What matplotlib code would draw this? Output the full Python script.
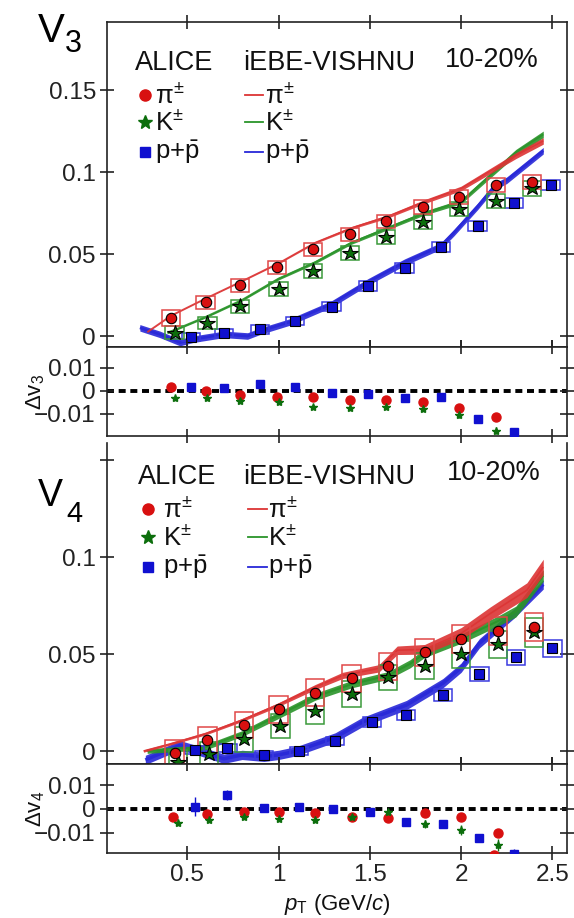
import numpy as np
import matplotlib
matplotlib.use('Agg')
import matplotlib.pyplot as plt

plt.rcParams['font.family'] = ['Liberation Sans', 'DejaVu Sans']
plt.rcParams['mathtext.fontset'] = 'custom'
plt.rcParams['mathtext.rm'] = 'Liberation Sans'
plt.rcParams['mathtext.it'] = 'Liberation Sans:italic'
plt.rcParams['mathtext.bf'] = 'Liberation Sans:bold'
plt.rcParams['axes.unicode_minus'] = True

# ---------------- data: v3 (10-20%) ----------------
pt_pi = [0.41, 0.60, 0.79, 0.99, 1.19, 1.39, 1.59, 1.79, 1.99, 2.19, 2.39]
pt_k = [0.43, 0.61, 0.79, 1.00, 1.19, 1.39, 1.59, 1.79, 1.99, 2.19, 2.39]
pt_p = [0.52, 0.70, 0.90, 1.09, 1.29, 1.49, 1.69, 1.89, 2.09, 2.29, 2.49]

v3_pi = [0.011, 0.0207, 0.031, 0.042, 0.053, 0.062, 0.070, 0.0787, 0.0848, 0.092, 0.094]
v3_k = [0.002, 0.008, 0.018, 0.0287, 0.0397, 0.0506, 0.0604, 0.0695, 0.0775, 0.0823, 0.090]
v3_p = [-0.0006, 0.002, 0.004, 0.009, 0.0178, 0.0305, 0.0415, 0.0543, 0.067, 0.081, 0.092]
v3_pi_sys = [0.0049, 0.0040, 0.0040, 0.0040, 0.0040, 0.0040, 0.0040, 0.0042, 0.0042, 0.0043, 0.0043]
v3_k_sys = [0.0040, 0.0038, 0.0038, 0.0040, 0.0042, 0.0042, 0.0042, 0.0043, 0.0043, 0.0045, 0.0045]
v3_p_sys = [0.0025, 0.0025, 0.0025, 0.0025, 0.0028, 0.0028, 0.0028, 0.0028, 0.003, 0.003, 0.003]

# model (iEBE-VISHNU) v3
m3_pi_x = [0.28, 0.41, 0.60, 0.80, 1.00, 1.20, 1.40, 1.60, 1.80, 2.00, 2.15, 2.30, 2.45]
m3_pi_y = [0.0025, 0.0125, 0.023, 0.0336, 0.0445, 0.057, 0.066, 0.073, 0.082, 0.090, 0.100, 0.110, 0.119]
m3_pi_w = [0.0004, 0.0004, 0.0004, 0.0004, 0.0005, 0.0006, 0.0008, 0.0010, 0.0012, 0.0014, 0.0016, 0.0018, 0.0020]
m3_k_x = [0.39, 0.43, 0.60, 0.80, 1.00, 1.20, 1.40, 1.60, 1.80, 2.00, 2.15, 2.30, 2.45]
m3_k_y = [0.002, 0.0037, 0.0116, 0.022, 0.035, 0.045, 0.057, 0.066, 0.075, 0.082, 0.097, 0.112, 0.123]
m3_k_w = [0.0006, 0.0006, 0.0006, 0.0007, 0.0008, 0.0009, 0.0010, 0.0011, 0.0012, 0.0014, 0.0016, 0.0018, 0.0020]
m3_p_x = [0.24, 0.35, 0.46, 0.53, 0.70, 0.83, 0.90, 1.06, 1.29, 1.49, 1.69, 1.89, 1.96, 2.09, 2.18, 2.25, 2.45]
m3_p_y = [0.005, 0.001, -0.004, -0.002, 0.001, 0.0, 0.003, 0.0085, 0.0195, 0.033, 0.045, 0.055, 0.063, 0.079, 0.091, 0.095, 0.113]
m3_p_w = [0.0020] * 17

# ratio dv3
d3_pi_x = [0.41, 0.60, 0.79, 0.99, 1.19, 1.39, 1.59, 1.79, 1.99, 2.19]
d3_pi = [0.0017, 0.0, -0.0017, -0.0026, -0.0026, -0.0039, -0.0039, -0.0048, -0.0074, -0.0113]
d3_k_x = [0.43, 0.61, 0.79, 1.00, 1.19, 1.39, 1.59, 1.79, 1.99, 2.19]
d3_k = [-0.003, -0.003, -0.0043, -0.0048, -0.007, -0.0074, -0.007, -0.0078, -0.0104, -0.0174]
d3_k_err = [0.0005, 0.0005, 0.0005, 0.0005, 0.0005, 0.0006, 0.0007, 0.0008, 0.0012, 0.0015]
d3_p_x = [0.52, 0.70, 0.90, 1.09, 1.29, 1.49, 1.69, 1.89, 2.09, 2.29]
d3_p = [0.0017, 0.0013, 0.003, 0.0017, -0.001, -0.0013, -0.003, -0.0026, -0.0122, -0.0178]

# ---------------- data: v4 (10-20%) ----------------
v4_pi = [-0.001, 0.0057, 0.0134, 0.0216, 0.030, 0.0375, 0.0438, 0.051, 0.058, 0.062, 0.064]
v4_k = [-0.0057, -0.0015, 0.006, 0.0129, 0.0206, 0.0294, 0.038, 0.0438, 0.050, 0.055, 0.0613]
v4_p = [0.0005, 0.0015, -0.002, 0.0, 0.0052, 0.015, 0.0185, 0.0288, 0.0397, 0.0484, 0.053]
pt4_pi = [0.43, 0.61, 0.81, 1.00, 1.20, 1.40, 1.60, 1.80, 2.00, 2.20, 2.40]
pt4_k = [0.45, 0.62, 0.81, 1.01, 1.20, 1.40, 1.60, 1.80, 2.00, 2.20, 2.40]
pt4_p = [0.54, 0.72, 0.92, 1.11, 1.31, 1.51, 1.70, 1.90, 2.10, 2.30, 2.50]
v4_pi_sys = [0.0067, 0.0068, 0.0068, 0.0070, 0.0070, 0.0070, 0.0070, 0.0070, 0.0072, 0.0072, 0.0072]
v4_k_sys = [0.0062, 0.0062, 0.0064, 0.0064, 0.0066, 0.0066, 0.0066, 0.0068, 0.0070, 0.0072, 0.0075]
v4_p_sys = [0.0020, 0.0020, 0.0020, 0.0020, 0.0022, 0.0024, 0.0026, 0.0030, 0.0035, 0.0040, 0.0043]

m4_pi_x = [0.26, 0.40, 0.60, 0.80, 1.00, 1.20, 1.35, 1.55, 1.65, 1.80, 2.00, 2.16, 2.36, 2.45]
m4_pi_y = [0.0, 0.0035, 0.009, 0.016, 0.024, 0.033, 0.039, 0.0427, 0.052, 0.0525, 0.0607, 0.071, 0.083, 0.095]
m4_pi_w = [0.0006, 0.0006, 0.0007, 0.0008, 0.0010, 0.0013, 0.0016, 0.0019, 0.0022, 0.0025, 0.0030, 0.0034, 0.0038, 0.0040]
m4_k_x = [0.28, 0.45, 0.60, 0.80, 1.00, 1.20, 1.40, 1.60, 1.72, 1.80, 2.00, 2.20, 2.30, 2.45]
m4_k_y = [0.0, 0.001, 0.002, 0.009, 0.0185, 0.028, 0.0345, 0.039, 0.045, 0.0505, 0.058, 0.067, 0.072, 0.0906]
m4_k_w = [0.0012, 0.0013, 0.0014, 0.0015, 0.0017, 0.0018, 0.0019, 0.0020, 0.0021, 0.0022, 0.0024, 0.0026, 0.0028, 0.0030]
m4_p_x = [0.27, 0.46, 0.55, 0.70, 0.80, 0.92, 1.00, 1.10, 1.31, 1.46, 1.70, 1.90, 2.00, 2.10, 2.29, 2.45]
m4_p_y = [-0.0046, 0.003, 0.0005, -0.004, -0.002, -0.003, -0.002, 0.0, 0.007, 0.015, 0.0237, 0.035, 0.043, 0.0556, 0.071, 0.086]
m4_p_w = [0.0024] * 16

d4_pi_x = [0.42, 0.61, 0.81, 1.00, 1.20, 1.40, 1.60, 1.80, 2.00, 2.20, 2.18]
d4_pi = [-0.0034, -0.0021, -0.0013, -0.0013, -0.0017, -0.0034, -0.0038, -0.0017, -0.0034, -0.0102, -0.0195]
d4_pi_err = [0.0005, 0.0005, 0.0005, 0.0005, 0.0005, 0.0005, 0.0005, 0.0006, 0.0008, 0.0015, 0.0015]
d4_k_x = [0.45, 0.62, 0.81, 1.00, 1.20, 1.40, 1.60, 1.80, 2.00, 2.20]
d4_k = [-0.006, -0.0047, -0.0034, -0.0043, -0.0047, -0.0035, -0.0013, -0.0064, -0.0089, -0.0153]
d4_k_err = [0.0005, 0.0005, 0.0005, 0.0005, 0.0006, 0.0007, 0.0008, 0.0018, 0.0022, 0.0025]
d4_p_x = [0.54, 0.72, 0.92, 1.11, 1.30, 1.50, 1.70, 1.90, 2.10, 2.29]
d4_p = [0.0009, 0.006, 0.0004, 0.0009, 0.0, -0.0013, -0.0055, -0.0064, -0.0123, -0.019]
d4_p_err = [0.004, 0.0022, 0.0008, 0.0008, 0.0008, 0.0009, 0.0012, 0.0014, 0.0016, 0.0018]

xticks = [0.5, 1, 1.5, 2, 2.5]
xticklabels = ['0.5', '1', '1.5', '2', '2.5']

# ---------------- style ----------------
RED, GREEN, BLUE = '#d81010', '#0c6e0c', '#1010d0'
RED_BOX, GREEN_BOX, BLUE_BOX = '#e04848', '#3a9a3a', '#3a3ae0'
RED_M, GREEN_M, BLUE_M = '#dc3434', '#2a942a', '#2828d8'
TS = 17.5

fig = plt.figure(figsize=(5.74, 9.18), dpi=100)
L, W = 107 / 574, 460 / 574


def fy(top_px, bot_px):
    return [L, 1 - bot_px / 918, W, (bot_px - top_px) / 918]


ax3 = fig.add_axes(fy(22, 347))
ax3r = fig.add_axes(fy(347, 436))
ax4 = fig.add_axes(fy(443, 764))
ax4r = fig.add_axes(fy(764, 853))


def style(ax):
    for s in ax.spines.values():
        s.set_linewidth(1.2)
        s.set_color('#222222')
    ax.tick_params(direction='inout', length=10, width=1.2, labelsize=TS,
                   top=True, right=True, colors='#222222', pad=3)
    ax.set_xlim(0.06, 2.58)
    ax.set_xticks(xticks)


def model(ax, x, y, w, c, lw):
    x = np.asarray(x); y = np.asarray(y); w = np.asarray(w)
    ax.fill_between(x, y - w, y + w, color=c, alpha=0.9, lw=0, zorder=2)
    ax.plot(x, y, color=c, lw=lw, alpha=0.9, zorder=2, solid_capstyle='butt')


def data(ax, x, y, sys, c, box, marker, ms, mew=0.8):
    x = np.asarray(x); y = np.asarray(y); sys = np.asarray(sys)
    ax.bar(x, 2 * sys, bottom=y - sys, width=0.1, fill=False,
           edgecolor=box, linewidth=1.1, zorder=3)
    ax.plot(x, y, ls='none', marker=marker, ms=ms, mfc=c, mec='black',
            mew=mew, zorder=4)


def legend(ax, yl, ya, x0, xt, xl):
    ax.text(x0 - 0.022, yl, 'ALICE', transform=ax.transAxes, fontsize=19.5,
            va='center', ha='left', color='#111111')
    ax.text(0.296, yl, 'iEBE-VISHNU', transform=ax.transAxes, fontsize=19.5,
            va='center', ha='left', color='#111111')
    labs = [r'$\mathrm{\pi}^{\pm}$', r'$\mathrm{K}^{\pm}$', r'$\mathrm{p{+}\bar{p}}$']
    mk = [('o', 8, RED), ('*', 10, GREEN), ('s', 7, BLUE)]
    mc = [RED_M, GREEN_M, BLUE_M]
    for i, (lab, (m, s, c)) in enumerate(zip(labs, mk)):
        yy = ya[i]
        ax.plot([x0], [yy], transform=ax.transAxes, marker=m, ms=s, color=c,
                mec=c, ls='none', clip_on=False)
        ax.text(xt, yy, lab, transform=ax.transAxes, fontsize=18.5,
                va='center', ha='left', color='#111111')
        ax.plot([xl, xl + 0.04], [yy, yy], transform=ax.transAxes, color=mc[i],
                lw=1.3, clip_on=False)
        ax.text(xl + 0.044, yy, lab, transform=ax.transAxes, fontsize=18.5,
                va='center', ha='left', color='#111111')


# ---------------- v3 main ----------------
style(ax3)
ax3.set_ylim(-0.0067, 0.1915)
ax3.set_yticks([0, 0.05, 0.1, 0.15])
ax3.set_yticklabels(['0', '0.05', '0.1', '0.15'])
ax3.set_xticklabels([])
model(ax3, m3_p_x, m3_p_y, m3_p_w, BLUE_M, 2.0)
model(ax3, m3_k_x, m3_k_y, m3_k_w, GREEN_M, 1.4)
model(ax3, m3_pi_x, m3_pi_y, m3_pi_w, RED_M, 1.0)
data(ax3, pt_p, v3_p, v3_p_sys, BLUE, BLUE_BOX, 's', 7)
data(ax3, pt_k, v3_k, v3_k_sys, GREEN, GREEN_BOX, '*', 11.5)
data(ax3, pt_pi, v3_pi, v3_pi_sys, RED, RED_BOX, 'o', 7.5)
legend(ax3, 0.874, [0.775, 0.692, 0.600], 0.083, 0.104, 0.30)
ax3.text(0.735, 0.883, '10-20%', transform=ax3.transAxes, fontsize=19.5,
         va='center', ha='left', color='#111111')

# ---------------- v3 ratio ----------------
style(ax3r)
ax3r.set_ylim(-0.0196, 0.0191)
ax3r.set_yticks([-0.01, 0, 0.01])
ax3r.set_yticklabels(['\u22120.01', '0', '0.01'])
ax3r.set_xticklabels([])
ax3r.axhline(0, color='black', lw=2.8, ls=(0, (1.8, 1.2)), zorder=1)
ax3r.plot(d3_pi_x, d3_pi, 'o', ms=6.5, color=RED, mec=RED, zorder=3)
ax3r.errorbar(d3_k_x, d3_k, yerr=d3_k_err, fmt='*', ms=6, color=GREEN,
              mec=GREEN, elinewidth=1.0, capsize=0, zorder=3)
ax3r.plot(d3_p_x, d3_p, 's', ms=6, color=BLUE, mec=BLUE, zorder=3)
ax3r.text(-0.155, 0.5, r'$\Delta\mathrm{v}_3$', transform=ax3r.transAxes,
          rotation=90, fontsize=16, va='center', ha='center', color='#111111')

# ---------------- v4 main ----------------
style(ax4)
ax4.spines['top'].set_visible(False)
ax4.tick_params(top=False)
ax4.set_ylim(-0.0067, 0.159)
ax4.set_yticks([0, 0.05, 0.1, 0.15])
ax4.set_yticklabels(['0', '0.05', '0.1', ''])
ax4.set_xticklabels([])
model(ax4, m4_p_x, m4_p_y, m4_p_w, BLUE_M, 2.5)
model(ax4, m4_k_x, m4_k_y, m4_k_w, GREEN_M, 1.5)
model(ax4, m4_pi_x, m4_pi_y, m4_pi_w, RED_M, 1.2)
data(ax4, pt4_p, v4_p, v4_p_sys, BLUE, BLUE_BOX, 's', 7)
data(ax4, pt4_k, v4_k, v4_k_sys, GREEN, GREEN_BOX, '*', 11.5)
data(ax4, pt4_pi, v4_pi, v4_pi_sys, RED, RED_BOX, 'o', 7.5)
legend(ax4, 0.894, [0.794, 0.707, 0.614], 0.090, 0.122, 0.307)
ax4.text(0.739, 0.907, '10-20%', transform=ax4.transAxes, fontsize=19.5,
         va='center', ha='left', color='#111111')

# ---------------- v4 ratio ----------------
style(ax4r)
ax4r.set_ylim(-0.0187, 0.0191)
ax4r.set_yticks([-0.01, 0, 0.01])
ax4r.set_yticklabels(['\u22120.01', '0', '0.01'])
ax4r.set_xticklabels(xticklabels)
ax4r.axhline(0, color='black', lw=2.8, ls=(0, (1.8, 1.2)), zorder=1)
ax4r.errorbar(d4_pi_x, d4_pi, yerr=d4_pi_err, fmt='o', ms=6.5, color=RED,
              mec=RED, elinewidth=1.0, capsize=0, zorder=3)
ax4r.errorbar(d4_k_x, d4_k, yerr=d4_k_err, fmt='*', ms=6, color=GREEN,
              mec=GREEN, elinewidth=1.0, capsize=0, zorder=3)
ax4r.errorbar(d4_p_x, d4_p, yerr=d4_p_err, fmt='s', ms=6, color=BLUE,
              mec=BLUE, elinewidth=1.0, capsize=0, zorder=3)
ax4r.text(-0.155, 0.5, r'$\Delta\mathrm{v}_4$', transform=ax4r.transAxes,
          rotation=90, fontsize=16, va='center', ha='center', color='#111111')
ax4r.set_xlabel(r'$p_\mathrm{T}$ (GeV/$c$)', fontsize=16, color='#111111',
                labelpad=4)

# ---------------- panel labels ----------------
fig.text(38 / 574, 1 - 42 / 918, 'V', fontsize=29, va='baseline', ha='left')
fig.text(65 / 574, 1 - 52 / 918, '3', fontsize=22, va='baseline', ha='left')
fig.text(38 / 574, 1 - 506 / 918, 'V', fontsize=27, va='baseline', ha='left')
fig.text(66 / 574, 1 - 522 / 918, '4', fontsize=21, va='baseline', ha='left')

fig.savefig('out.png', dpi=100)
